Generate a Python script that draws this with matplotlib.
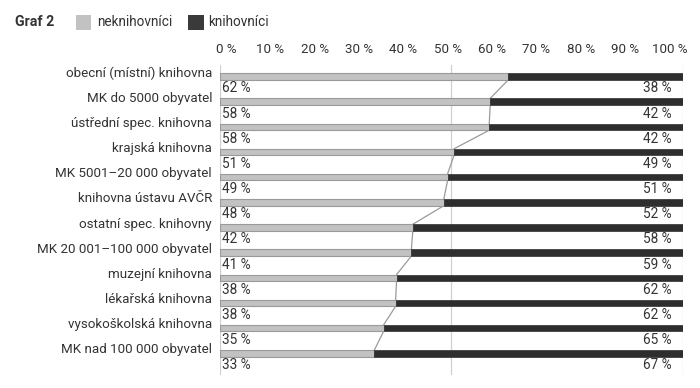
import matplotlib
matplotlib.use("Agg")
import matplotlib.pyplot as plt
from matplotlib.patches import Rectangle

plt.rcParams['font.family'] = ['Roboto', 'DejaVu Sans']

categories = [
    "obecní (místní) knihovna",
    "MK do 5000 obyvatel",
    "ústřední spec. knihovna",
    "krajská knihovna",
    "MK 5001–20 000 obyvatel",
    "knihovna ústavu AVČR",
    "ostatní spec. knihovny",
    "MK 20 001–100 000 obyvatel",
    "muzejní knihovna",
    "lékařská knihovna",
    "vysokoškolská knihovna",
    "MK nad 100 000 obyvatel",
]
neknihovnici = [62.3, 58.4, 58.2, 50.6, 49.2, 48.4, 41.7, 41.4, 38.2, 38.0, 35.4, 33.4]
knihovnici = [100 - v for v in neknihovnici]
xticks = [0, 10, 20, 30, 40, 50, 60, 70, 80, 90, 100]
xtick_labels = [f"{t} %" for t in xticks]

W, H = 700, 388
fig = plt.figure(figsize=(W / 100, H / 100), dpi=100)
ax = fig.add_axes([219.5 / W, 1 - 375 / H, (683 - 219.5) / W, (375 - 65) / H])

GRAY = "#c2c2c2"
GRAY_EDGE = "#9a9a9a"
DARK = "#2e2e2e"
TXT = "#333333"

bh = 0.26
ys = list(range(len(categories)))
ax.barh(ys, neknihovnici, height=bh, color=GRAY, edgecolor=GRAY_EDGE, linewidth=0.8, zorder=3)
ax.barh(ys, knihovnici, left=neknihovnici, height=bh, color=DARK, edgecolor=DARK, linewidth=0.5, zorder=3)

# connectors between bar boundaries
for i in range(len(ys) - 1):
    ax.plot([neknihovnici[i], neknihovnici[i + 1]], [ys[i] + bh / 2, ys[i + 1] - bh / 2],
            color="#9a9a9a", lw=0.9, zorder=2)

# gridlines
for g in [0, 50, 100]:
    ax.axvline(g, color="#d0d0d0", lw=0.9, zorder=1)

for i, (a, b) in enumerate(zip(neknihovnici, knihovnici)):
    ax.text(0.6, i + 0.47, f"{a:.0f} %", ha="left", va="center", fontsize=9.8, color=TXT)
    ax.text(97.6, i + 0.47, f"{b:.0f} %", ha="right", va="center", fontsize=9.8, color=TXT)
    ax.text(-1.6, i - 0.14, categories[i], ha="right", va="center", fontsize=9.6, color=TXT, clip_on=False)

ax.set_xlim(0, 100)
ax.set_ylim(11.86, -0.46)
ax.xaxis.tick_top()
# tick labels are spread slightly narrower than the gridline scale
ax.set_xticks([1.4 + 0.9568 * t for t in xticks])
ax.set_xticklabels(xtick_labels, fontsize=9.6, color=TXT)
ax.tick_params(axis="x", length=0, pad=6.5)
ax.set_yticks([])
for s in ax.spines.values():
    s.set_visible(False)

# header / legend
fig.text(15 / W, 1 - 22.5 / H, "Graf 2", fontsize=10.2, fontweight="bold", color=TXT, va="center", ha="left")
fig.add_artist(Rectangle((76 / W, 1 - 30 / H), 15.5 / W, 15.5 / H, transform=fig.transFigure,
                         facecolor=GRAY, edgecolor="none"))
fig.text(97 / W, 1 - 22.5 / H, "neknihovníci", fontsize=9.8, color=TXT, va="center", ha="left")
fig.add_artist(Rectangle((188 / W, 1 - 30 / H), 15.5 / W, 15.5 / H, transform=fig.transFigure,
                         facecolor="#3a3a3a", edgecolor="none"))
fig.text(208 / W, 1 - 22.5 / H, "knihovníci", fontsize=9.8, color=TXT, va="center", ha="left")

fig.savefig("out.png", dpi=100)
